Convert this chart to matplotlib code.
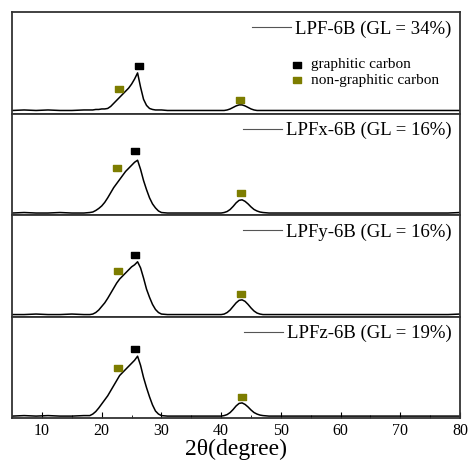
import matplotlib
matplotlib.use("Agg")
import matplotlib.pyplot as plt
from matplotlib.lines import Line2D

two_theta = [5, 7, 9, 11, 13, 15, 17,
             18, 18.5, 19, 19.5, 20, 20.5, 21, 21.5, 22, 22.5, 23, 23.5, 24, 24.5, 25, 25.5,
             26, 26.5, 27, 27.5, 28, 28.5, 29, 29.5, 30,
             31, 33, 35, 37, 39,
             40, 40.5, 41, 41.5, 42, 42.5, 43, 43.5, 44, 44.5, 45, 45.5, 46, 46.5, 47,
             48, 50, 52, 55, 58, 61, 64, 67, 70, 73, 76, 78, 80]

lpf_6b = [3, 3.5, 3, 3.5, 3, 3, 3.5,
          3.5, 3.5, 4, 4, 4.5, 4.5, 5, 7, 10, 13, 16, 19, 22, 25, 29, 34,
          40, 26, 14, 8, 5, 4, 3.5, 3.5, 3.5,
          3, 3, 3, 3, 3,
          3, 3, 3.5, 4.5, 6, 7.5, 8.5, 8.5, 7.5, 6, 4.5, 3.5, 3, 3, 3,
          3, 3, 3, 3, 3, 3, 3, 3, 3, 3, 3, 3, 3]

lpfx_6b = [2, 2.5, 2, 2, 2.5, 2, 2,
           2.5, 3, 4.5, 6.5, 9, 12.5, 17, 22, 27, 31, 35, 39, 43, 46, 49, 52,
           54, 45, 34, 25, 17, 11, 7, 4, 2.5,
           2, 2, 2, 2, 2,
           2, 2.5, 3.5, 5.5, 8.5, 12, 14.5, 15, 13.5, 11, 8, 5.5, 4, 3, 2.5,
           2, 2, 2, 2, 2, 2, 2, 2, 2, 2, 2, 2, 2.5]

lpfy_6b = [2, 2, 2.5, 2, 2, 2.5, 2,
           2, 2.5, 4, 6.5, 10, 13.5, 18, 23, 28, 33, 37, 40, 43, 46, 49, 51,
           54, 48, 38, 27, 19, 12, 7, 4, 2.5,
           2, 2, 2, 2, 2,
           2, 2.5, 4, 6.5, 10, 13.5, 16, 16.5, 15, 12, 8.5, 5.5, 3.5, 2.5, 2,
           2, 2, 2, 2, 2, 2, 2, 2, 2, 2, 2, 2, 2.5]

lpfz_6b = [2, 2.5, 2, 2.5, 2, 2, 2.5,
           2.5, 4, 6.5, 10, 14, 18, 22, 27, 32, 37, 42, 45, 48, 51, 54, 57,
           61, 52, 40, 30, 21, 13, 7, 4, 2.5,
           2, 2, 2, 2, 2,
           2, 2.5, 3.5, 5.5, 8.5, 12, 14.5, 15, 13.5, 11, 8, 5.5, 4, 3, 2.5,
           2, 2, 2, 2, 2, 2, 2, 2, 2, 2, 2, 2, 2]

series = [lpf_6b, lpfx_6b, lpfy_6b, lpfz_6b]
labels = ["LPF-6B (GL = 34%)", "LPFx-6B (GL = 16%)",
          "LPFy-6B (GL = 16%)", "LPFz-6B (GL = 19%)"]

# phase marker positions (2theta, intensity) per panel
graphitic_x = [26.2, 25.5, 25.5, 25.5]
graphitic_y = [47, 63, 61, 68]
nongraph_x = [[22.9, 43.1], [22.5, 43.3], [22.8, 43.3], [22.8, 43.5]]
nongraph_y = [[24, 13], [46, 22], [45, 22], [49, 21]]

olive = "#7d7d00"
rect = [(-1.35, -1), (1.35, -1), (1.35, 1), (-1.35, 1), (-1.35, -1)]

plt.rcParams["font.family"] = ["Liberation Serif", "DejaVu Serif"]
fig = plt.figure(figsize=(4.68, 4.61), dpi=100)
axes = fig.subplots(4, 1, sharex=True, gridspec_kw=dict(hspace=0))
fig.subplots_adjust(left=0.026, right=0.983, top=0.974, bottom=0.093)

for i, ax in enumerate(axes):
    ax.plot(two_theta, series[i], color="black", lw=1.1)
    ax.scatter([graphitic_x[i]], [graphitic_y[i]], marker=rect, s=26,
               color="black", zorder=3)
    ax.scatter(nongraph_x[i], nongraph_y[i], marker=rect, s=26,
               color=olive, zorder=3)
    ax.set_xlim(5, 80)
    ax.set_ylim(0, 100)
    ax.set_yticks([])
    for sp in ax.spines.values():
        sp.set_color("#333333")
        sp.set_linewidth(1.3)
    ax.tick_params(axis="x", which="both", direction="in", top=False,
                   bottom=(i == 3), labelsize=11.5)
    h = Line2D([], [], color="#555555", lw=0.8)
    ax.legend([h], [labels[i]], loc="upper right", frameon=False,
              handlelength=2.1, handletextpad=0.2, fontsize=13.5,
              borderaxespad=0.15, borderpad=0.3)

axes[3].set_xticks([10, 20, 30, 40, 50, 60, 70, 80])
axes[3].set_xticks(list(range(5, 81, 5)), minor=True)
axes[3].tick_params(axis="x", which="major", length=4)
axes[3].tick_params(axis="x", which="minor", length=2.5)
axes[3].set_xlabel("2θ(degree)", fontsize=17, labelpad=0)

ax0 = axes[0]
ax0.scatter([0.636], [0.48], marker=rect, s=26, color="black",
            transform=ax0.transAxes, clip_on=False)
ax0.scatter([0.636], [0.33], marker=rect, s=26, color=olive,
            transform=ax0.transAxes, clip_on=False)
ax0.text(0.668, 0.48, "graphitic carbon", transform=ax0.transAxes,
         va="center", ha="left", fontsize=11)
ax0.text(0.668, 0.33, "non-graphitic carbon", transform=ax0.transAxes,
         va="center", ha="left", fontsize=11)

fig.savefig("out.png", dpi=100)
